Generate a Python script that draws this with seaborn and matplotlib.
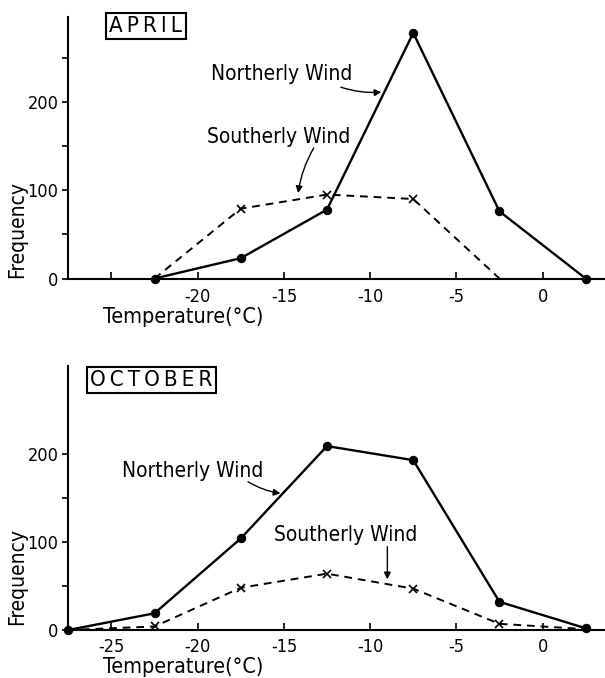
import numpy as np
import pandas as pd
import seaborn as sns
import matplotlib.pyplot as plt

# ---- data ----
apr_temp_north = [-22.5, -17.5, -12.5, -7.5, -2.5, 2.5]
apr_north = [0, 23, 78, 278, 76, 0]
apr_temp_south = [-22.5, -17.5, -12.5, -7.5, -2.5]
apr_south = [0, 79, 95, 90, 0]

oct_temp = [-27.5, -22.5, -17.5, -12.5, -7.5, -2.5, 2.5]
oct_north = [0, 19, 104, 209, 193, 32, 2]
oct_south = [0, 4, 48, 64, 47, 7, 1]

xticks = [-25, -20, -15, -10, -5, 0]
xticklabels_apr = ["", "-20", "-15", "-10", "-5", "0"]
xticklabels_oct = ["-25", "-20", "-15", "-10", "-5", "0"]

sns.set_style("ticks")
plt.rcParams["font.family"] = ["DejaVu Sans"]
plt.rcParams["font.stretch"] = "condensed"
plt.rcParams["text.color"] = "black"
plt.rcParams["xtick.color"] = "black"
plt.rcParams["ytick.color"] = "black"
plt.rcParams["axes.edgecolor"] = "black"
plt.rcParams["axes.unicode_minus"] = False

W, H = 605, 678
fig = plt.figure(figsize=(W / 100, H / 100), dpi=100)
left = 68.3 / W
width = 1 - left
ax1 = fig.add_axes([left, (H - 278.5) / H, width, 261.5 / H])
ax2 = fig.add_axes([left, (H - 630) / H, width, 264 / H])

def draw(ax, tn, north, ts, south, south_marks):
    dn = pd.DataFrame({"t": tn, "f": north})
    ds = pd.DataFrame({"t": ts, "f": south})
    sns.lineplot(data=dn, x="t", y="f", ax=ax, color="black", lw=1.7,
                 marker="o", markersize=6, markeredgecolor="black",
                 clip_on=False, zorder=3)
    sns.lineplot(data=ds, x="t", y="f", ax=ax, color="black", lw=1.4,
                 linestyle=(0, (4, 3)), marker="x", markersize=6,
                 markeredgewidth=1.2, markeredgecolor="black",
                 markevery=south_marks, clip_on=False, zorder=2)
    for s in ["top", "right"]:
        ax.spines[s].set_visible(False)
    for s in ["left", "bottom"]:
        ax.spines[s].set_linewidth(1.5)
    ax.set_xlim(-27.5, 3.62)
    ax.set_xlabel("")
    ax.set_ylabel("")
    ax.tick_params(axis="y", direction="out", length=4, width=1.2, pad=3,
                   labelsize=13)

draw(ax1, apr_temp_north, apr_north, apr_temp_south, apr_south, [1, 2, 3])
ax1.set_ylim(0, 296)
ax1.set_yticks([0, 50, 100, 150, 200, 250])
ax1.set_yticklabels(["0", "", "100", "", "200", ""])
ax1.set_xticks(xticks)
ax1.set_xticklabels(xticklabels_apr)
ax1.tick_params(axis="x", direction="in", length=5, width=1.2, pad=6.5,
                labelsize=13)

draw(ax2, oct_temp, oct_north, oct_temp, oct_south, [1, 2, 3, 4, 5])
ax2.set_ylim(0, 300)
ax2.set_yticks([0, 50, 100, 150, 200])
ax2.set_yticklabels(["0", "", "100", "", "200"])
ax2.set_xticks(xticks)
ax2.set_xticklabels(xticklabels_oct)
ax2.tick_params(axis="x", direction="in", length=5, width=1.2, pad=5.5,
                labelsize=13)

# month boxes
box = dict(boxstyle="square,pad=0.15", fc="white", ec="black", lw=1.5)
ax1.text(-23.0, 286, "\u2009".join("APRIL"), ha="center", va="center",
         fontsize=16, bbox=box)
ax2.text(-22.7, 284, "\u2009".join("OCTOBER"), ha="center", va="center",
         fontsize=16, bbox=box)

# curve labels with arrows
arrow = dict(arrowstyle="-|>", color="black", lw=1.0, mutation_scale=10,
             shrinkA=0, shrinkB=0, connectionstyle="arc3,rad=0.1")
ax1.text(-19.2, 232, "Northerly Wind", ha="left", va="center", fontsize=15)
ax1.annotate("", xy=(-9.35, 211), xytext=(-11.7, 216.6), arrowprops=arrow)
ax1.text(-19.45, 160, "Southerly Wind", ha="left", va="center", fontsize=15)
ax1.annotate("", xy=(-14.17, 96.7), xytext=(-13.27, 147.6), arrowprops=arrow)

ax2.text(-24.4, 180.7, "Northerly Wind", ha="left", va="center", fontsize=15)
ax2.annotate("", xy=(-15.2, 155.3), xytext=(-17.08, 168.5), arrowprops=arrow)
ax2.text(-15.6, 108, "Southerly Wind", ha="left", va="center", fontsize=15)
ax2.annotate("", xy=(-9.0, 57.6), xytext=(-9.0, 94.7),
             arrowprops=dict(arrow, connectionstyle="arc3,rad=0"))

# axis titles
for ybase, ylab in [(278, 307), (625, 657)]:
    fig.text(17 / W, (H - ybase) / H, "Frequency", rotation=90,
             ha="center", va="bottom", fontsize=15)
    fig.text(103 / W, (H - ylab) / H, "Temperature(°C)", ha="left",
             va="top", fontsize=15.5)

fig.savefig("out.png", dpi=100)
